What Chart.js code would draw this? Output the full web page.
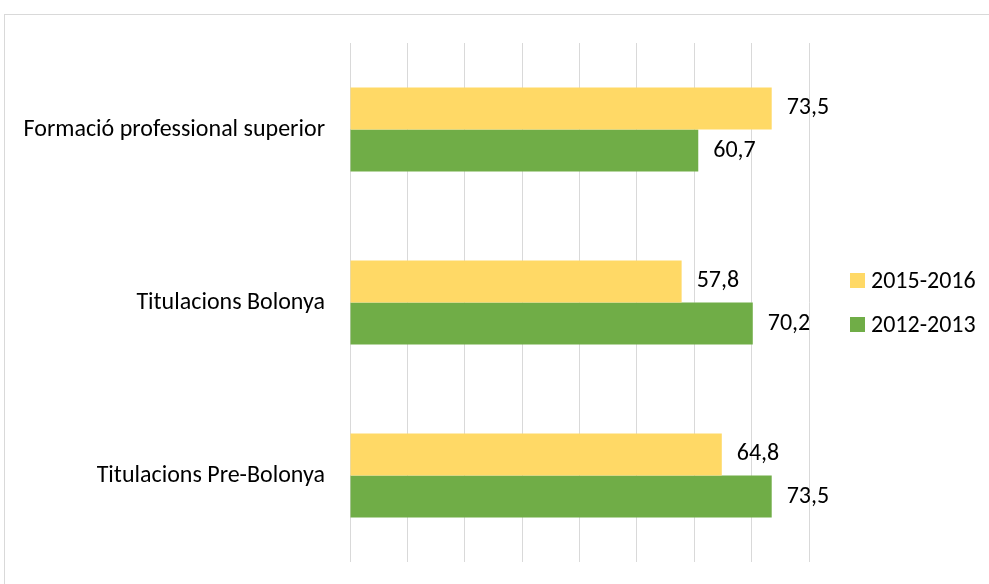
<!DOCTYPE html>
<html>
<head>
<meta charset="utf-8">
<script src="https://cdn.jsdelivr.net/npm/chart.js@4/dist/chart.umd.min.js"></script>
<style>
html,body{margin:0;padding:0;background:#fff;}
#wrap{width:989px;height:584px;position:relative;}
</style>
</head>
<body>
<div id="wrap"><canvas id="c" width="989" height="584"></canvas></div>
<script>
const categories = ["Formació professional superior", "Titulacions Bolonya", "Titulacions Pre-Bolonya"];
const seriesNames = ["2015-2016", "2012-2013"];
const values2015 = [73.5, 57.8, 64.8];
const values2012 = [60.7, 70.2, 73.5];
const seriesColors = ["#FFD966", "#70AD47"];

const FONT = "Carlito, Lato, 'Open Sans', sans-serif";
const FSIZE = 24;

const frame = {
  id: 'frame',
  beforeDraw(chart) {
    const ctx = chart.ctx;
    ctx.save();
    ctx.fillStyle = '#fff';
    ctx.fillRect(0, 0, chart.width, chart.height);
    ctx.strokeStyle = '#D9D9D9';
    ctx.lineWidth = 1;
    ctx.strokeRect(4.5, 14.5, 2000, 2000);
    ctx.restore();
  }
};

const valueLabels = {
  id: 'valueLabels',
  afterDatasetsDraw(chart) {
    const ctx = chart.ctx;
    ctx.save();
    ctx.font = FSIZE + "px " + FONT;
    ctx.fillStyle = '#000';
    ctx.textAlign = 'left';
    ctx.textBaseline = 'middle';
    chart.data.datasets.forEach((ds, i) => {
      const meta = chart.getDatasetMeta(i);
      meta.data.forEach((el, j) => {
        const txt = ds.data[j].toFixed(1).replace('.', ',');
        ctx.fillText(txt, el.x + 15, el.y);
      });
    });
    ctx.restore();
  }
};

const customLegend = {
  id: 'customLegend',
  afterDraw(chart) {
    const ctx = chart.ctx;
    const ca = chart.chartArea;
    ctx.save();
    ctx.font = FSIZE + "px " + FONT;
    ctx.textBaseline = 'middle';
    ctx.textAlign = 'left';
    const cy = (ca.top + ca.bottom) / 2;
    const gap = 44;
    chart.data.datasets.forEach((ds, i) => {
      const y = cy - gap / 2 + i * gap;
      ctx.fillStyle = ds.backgroundColor;
      ctx.fillRect(850, y - 7.5, 15, 15);
      ctx.fillStyle = '#000';
      ctx.fillText(ds.label, 871, y + 1);
    });
    ctx.restore();
  }
};

new Chart(document.getElementById('c'), {
  type: 'bar',
  data: {
    labels: categories,
    datasets: [
      { label: seriesNames[0], data: values2015, backgroundColor: seriesColors[0], categoryPercentage: 0.486, barPercentage: 1.0 },
      { label: seriesNames[1], data: values2012, backgroundColor: seriesColors[1], categoryPercentage: 0.486, barPercentage: 1.0 }
    ]
  },
  options: {
    indexAxis: 'y',
    responsive: false,
    animation: false,
    devicePixelRatio: 1,
    layout: { padding: { top: 43, bottom: 22, right: 180, left: 0 } },
    plugins: { legend: { display: false }, tooltip: { enabled: false } },
    scales: {
      x: {
        min: 0, max: 80,
        ticks: { display: false, stepSize: 10, padding: 0 },
        grid: { color: '#D9D9D9', lineWidth: 1, drawTicks: false },
        border: { display: false },
        afterFit(scale) { scale.height = 0; scale.paddingTop = 0; scale.paddingBottom = 0; }
      },
      y: {
        grid: { display: false, drawTicks: false },
        border: { display: false },
        ticks: { color: '#000', font: { family: FONT, size: FSIZE }, padding: 25 },
        afterFit(scale) { scale.width = 350; scale.paddingTop = 0; scale.paddingBottom = 0; }
      }
    }
  },
  plugins: [frame, valueLabels, customLegend]
});
</script>
</body>
</html>
